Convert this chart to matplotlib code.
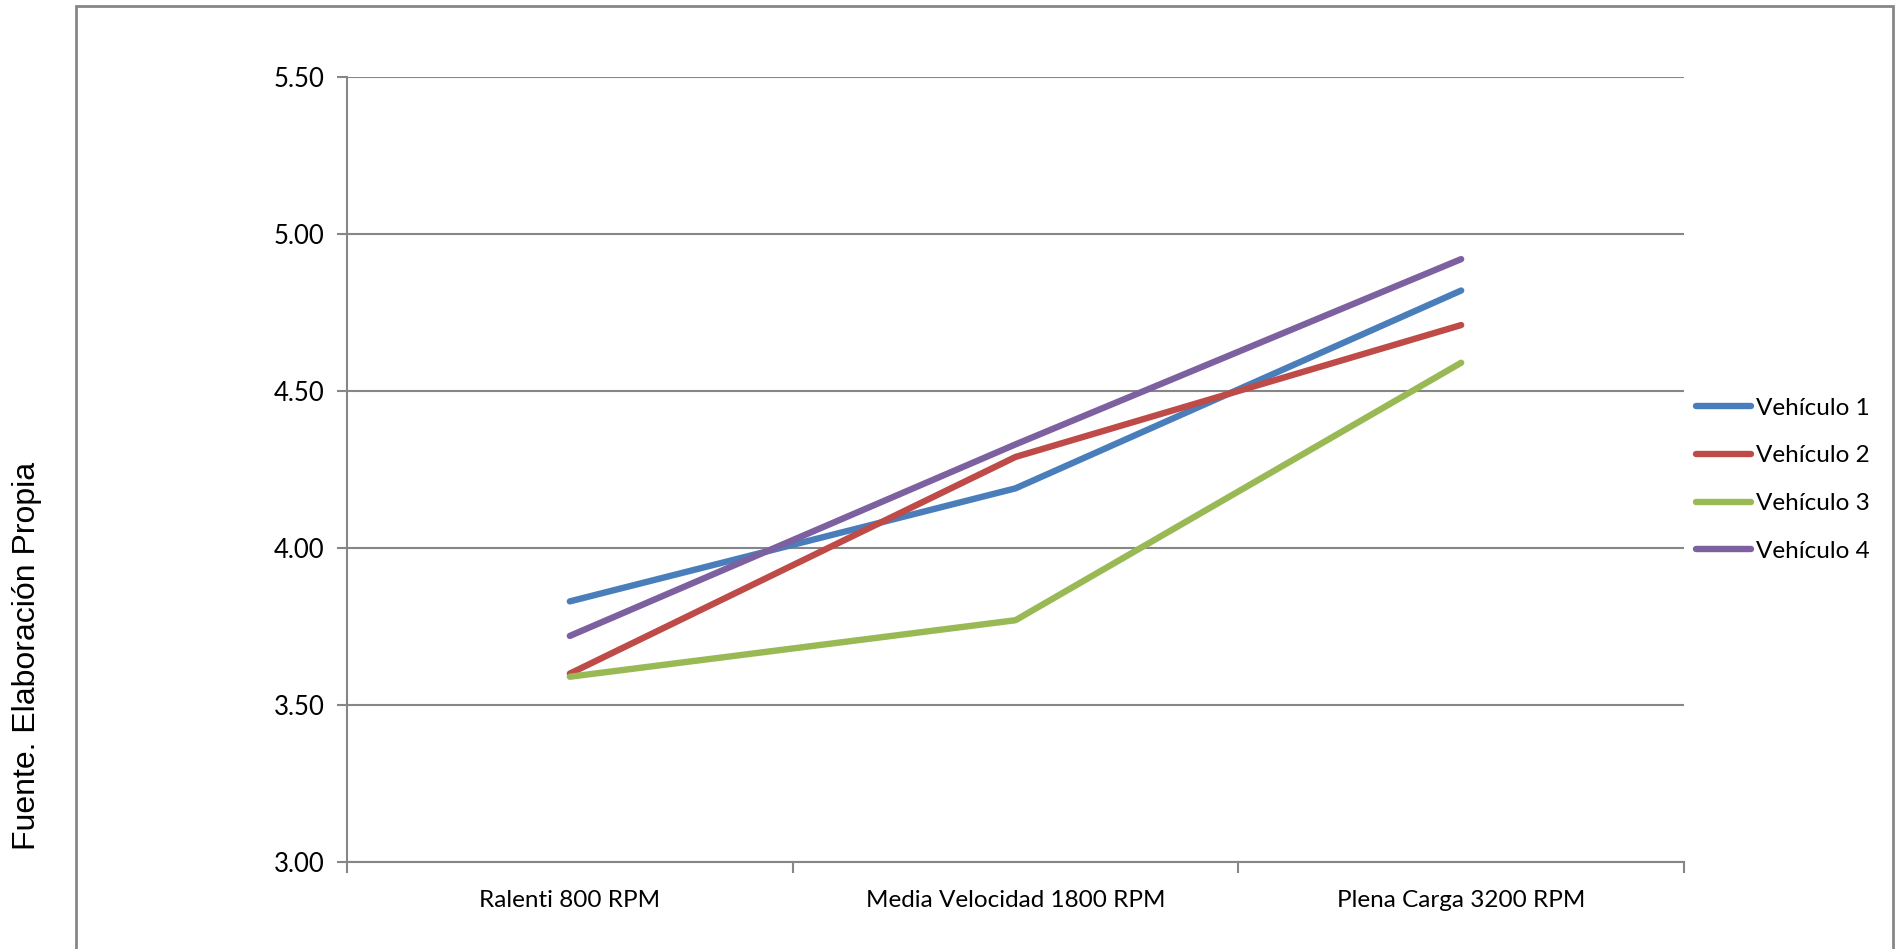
import matplotlib.pyplot as plt
from matplotlib.patches import Rectangle

categorias = ["Ralenti 800 RPM", "Media Velocidad 1800 RPM", "Plena Carga 3200 RPM"]
vehiculo_1 = [3.83, 4.19, 4.82]
vehiculo_2 = [3.60, 4.29, 4.71]
vehiculo_3 = [3.59, 3.77, 4.59]
vehiculo_4 = [3.72, 4.33, 4.92]
series = ["Vehículo 1", "Vehículo 2", "Vehículo 3", "Vehículo 4"]
colores = ["#4A7EBB", "#BE4B48", "#98B954", "#7D60A0"]
yticks = [3.00, 3.50, 4.00, 4.50, 5.00, 5.50]

gris = "#868686"
fuente = ["Lato", "DejaVu Sans"]

fig = plt.figure(figsize=(18.96, 9.49), dpi=100)
ax = fig.add_axes([347 / 1896, 1 - 862 / 949, (1684 - 347) / 1896, (862 - 77) / 949])

x = list(range(len(categorias)))
for datos, nombre, color in zip([vehiculo_1, vehiculo_2, vehiculo_3, vehiculo_4], series, colores):
    ax.plot(x, datos, color=color, lw=4.6, solid_capstyle="round", solid_joinstyle="round",
            label=nombre, zorder=3)

ax.set_xlim(-0.5, 2.5)
ax.set_ylim(3.0, 5.5)
ax.set_yticks(yticks)
ax.set_yticklabels([f"{v:.2f}" for v in yticks], family=fuente, fontsize=18.5)
ax.yaxis.grid(True, color=gris, lw=1.5)
ax.set_axisbelow(True)

ax.set_xticks(x)
ax.set_xticklabels(categorias, family=fuente, fontsize=17.5)
ax.set_xticks([-0.5, 0.5, 1.5, 2.5], minor=True)
ax.tick_params(axis="x", which="major", length=0, pad=20)
ax.tick_params(axis="x", which="minor", length=8, width=1.5, color=gris, direction="out")
ax.tick_params(axis="y", length=7, width=1.5, color=gris, direction="out", pad=9)

for lado in ["top", "right"]:
    ax.spines[lado].set_visible(False)
for lado in ["left", "bottom"]:
    ax.spines[lado].set_color(gris)
    ax.spines[lado].set_linewidth(1.5)

leg = ax.legend(loc="center left", bbox_to_anchor=(1.001, 0.487), frameon=False,
                prop={"family": fuente, "size": 17.5}, handlelength=2.26,
                handletextpad=0.2, labelspacing=1.1, borderaxespad=0, borderpad=0.45)
for linea in leg.get_lines():
    linea.set_linewidth(4.6)

# marco exterior del gráfico
fig.patches.append(Rectangle((76 / 1896, -0.2), (1893 - 76) / 1896, 1.2 - 6 / 949,
                             transform=fig.transFigure, fill=False, ec=gris, lw=2))

fig.text(27 / 1896, 1 - 656 / 949, "Fuente. Elaboración Propia", rotation=90,
         ha="center", va="center", fontsize=23,
         family=["Liberation Sans Narrow", "Liberation Sans"])

fig.savefig("out.png", dpi=100)
